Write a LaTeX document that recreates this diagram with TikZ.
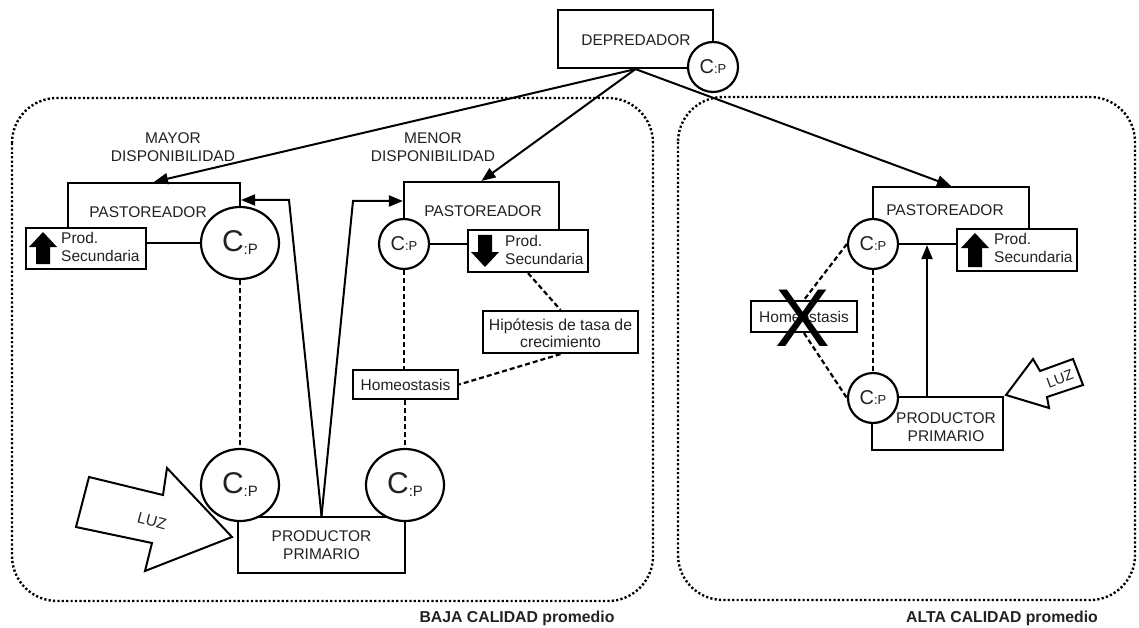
\documentclass[tikz,border=0pt]{standalone}
\usepackage{fontspec}
\setmainfont{Liberation Sans}
\usetikzlibrary{arrows.meta,shapes.geometric,calc}
\definecolor{txt}{HTML}{222222}
\tikzset{
  box/.style={draw=black, line width=2.2pt, fill=white, rectangle, inner sep=0pt},
  lbl/.style={text=txt, inner sep=0pt, font=\fontsize{15.5}{18}\selectfont, align=center},
  lbll/.style={text=txt, inner sep=0pt, font=\fontsize{15.5}{17.5}\selectfont, align=left, anchor=west},
  bigcp/.style={draw=black, line width=2.2pt, fill=white, ellipse, inner sep=0pt, minimum width=78pt, minimum height=72pt, text=txt},
  smallcp/.style={draw=black, line width=2.2pt, fill=white, circle, inner sep=0pt, minimum size=50pt, text=txt},
  con/.style={draw=black, line width=2pt},
  arr/.style={con, -{Triangle[length=14pt,width=11pt]}},
  dsh/.style={draw=black, line width=2.2pt, dash pattern=on 5pt off 3pt},
  dotbox/.style={draw=black, line width=2.4pt, dash pattern=on 2.2pt off 2.2pt, rounded corners=45pt},
  blk/.style={fill=black, draw=none},
  luz/.style={draw=black, line width=2pt, fill=white, line join=miter},
}
\newcommand{\bigCP}{{\fontsize{30}{30}\selectfont C}\raisebox{-3pt}{\fontsize{15}{15}\selectfont :P}}
\newcommand{\smCP}{{\fontsize{20}{20}\selectfont C}{\fontsize{13}{13}\selectfont :P}}
\begin{document}
\begin{tikzpicture}[x=1pt,y=-1pt]
\useasboundingbox (0,0) rectangle (1139,628);
\fill[white] (0,0) rectangle (1139,628);

% dotted regions
\draw[dotbox] (12,98) rectangle (653,601);
\draw[dotbox] (678,97) rectangle (1135,600);
\node[text=txt, inner sep=0pt, font=\fontsize{15.8}{18}\selectfont\bfseries] (baja) at (517,618) {BAJA CALIDAD promedio};
\node[text=txt, inner sep=0pt, font=\fontsize{15.8}{18}\selectfont\bfseries] (alta) at (1002,618) {ALTA CALIDAD promedio};

% DEPREDADOR
\node[box, minimum width=155pt, minimum height=58pt] (dep) at (635.5,39) {};
\node[lbl] (deptxt) at (636,40) {DEPREDADOR};
\node[smallcp] (depcp) at (713,67) {\smCP};

% ---- left region: mayor
\node[box, minimum width=172pt, minimum height=60pt] (pastL) at (154,213) {};
\node[lbl] (pastLt) at (148,212) {PASTOREADOR};
\node[box, minimum width=120pt, minimum height=41pt] (secL) at (86,248.5) {};
\fill[blk] (43,232) -- (57,247) -- (50,247) -- (50,264) -- (36,264) -- (36,247) -- (29,247) -- cycle;
\node[lbll] (secLt) at (61,247) {Prod.\\Secundaria};
\node[bigcp] (cL1) at (240,243) {\bigCP};
\node[lbl] (mayor) at (173,147) {MAYOR\\DISPONIBILIDAD};

% ---- left region: menor
\node[box, minimum width=155pt, minimum height=62pt] (pastM) at (481.5,213) {};
\node[lbl] (pastMt) at (483,211) {PASTOREADOR};
\node[box, minimum width=120pt, minimum height=42pt] (secM) at (528,251) {};
\fill[blk] (485,267) -- (499,252) -- (492,252) -- (492,235) -- (478,235) -- (478,252) -- (471,252) -- cycle;
\node[lbll] (secMt) at (505,250) {Prod.\\Secundaria};
\node[smallcp] (cM1) at (404,244) {\smCP};
\node[lbl] (menor) at (433,147) {MENOR\\DISPONIBILIDAD};

\node[box, minimum width=155pt, minimum height=42pt] (hip) at (560.5,332) {};
\node[lbl, font=\fontsize{15.8}{17}\selectfont] (hipt) at (560.5,333) {Hipótesis de tasa de\\crecimiento};
\node[box, minimum width=105pt, minimum height=29pt] (homM) at (405.5,384.5) {};
\node[lbl] (homMt) at (405.5,385) {Homeostasis};

% lower producer left
\node[box, minimum width=167pt, minimum height=56pt] (prodL) at (321.5,545) {};
\node[lbl] (prodLt) at (321.5,545) {PRODUCTOR\\PRIMARIO};
\node[bigcp] (cL2) at (240,485) {\bigCP};
\node[bigcp] (cM2) at (405,485) {\bigCP};

% connectors left region
\draw[arr] (dep.south) -- (pastL.north);
\draw[arr] (dep.south) -- (pastM.north);
\coordinate (bendL) at (289,200);
\coordinate (bendM) at (353,201);
\draw[arr] (prodL.north) -- (bendL) -- (pastL.east |- bendL);
\draw[arr] (prodL.north) -- (bendM) -- (pastM.west |- bendM);
\draw[dsh] (cL1.south) -- (cL2.north);
\draw[dsh] (cM1.south) -- (cM1.south |- homM.north);
\draw[dsh] (cM2.north |- homM.south) -- (cM2.north);
\draw[dsh] (secM.south) -- (hip.north);
\draw[dsh] (hip.south) -- (homM.east);

% LUZ left
\draw[luz] (89,477) -- (163,495) -- (167,468) -- (232,537) -- (145,571) -- (152,543) -- (76,527) -- cycle;
\node[lbl, rotate=-15] (luzL) at (152,521) {LUZ};

% ---- right region
\node[box, minimum width=156pt, minimum height=57pt] (pastR) at (951,215.5) {};
\node[lbl] (pastRt) at (945,210) {PASTOREADOR};
\node[box, minimum width=120pt, minimum height=42pt] (secR) at (1017,250) {};
\fill[blk] (975,233) -- (989,248) -- (982,248) -- (982,267) -- (968,267) -- (968,248) -- (961,248) -- cycle;
\node[lbll] (secRt) at (994,248) {Prod.\\Secundaria};
\node[smallcp] (cR1) at (873,244) {\smCP};

\node[box, minimum width=131pt, minimum height=53pt] (prodR) at (937.5,423.5) {};
\node[lbl] (prodRt) at (946,427) {PRODUCTOR\\PRIMARIO};
\node[smallcp] (cR2) at (873,398) {\smCP};

\node[box, minimum width=106pt, minimum height=31pt] (homR) at (804,316.5) {};
\node[lbl] (homRt) at (804,317) {Homeostasis};

\draw[arr] (dep.south) -- (pastR.north);
\coordinate (upbase) at (927,397);
\draw[arr] (upbase) -- (upbase |- pastR.south);
\draw[dsh] (cR1.south) -- (cR2.north);
\draw[dsh] (cR1.west) -- (homR.north);
\draw[dsh] (homR.south) -- (cR2.west);
\node[text=black, inner sep=0pt, font=\fontsize{82}{82}\selectfont] (xmark) at (803,318) {X};

% LUZ right
\draw[luz] (1006,395) -- (1033,359) -- (1040,371) -- (1073,359) -- (1083,385) -- (1047,397) -- (1049,408) -- cycle;
\node[lbl, rotate=20, font=\fontsize{14.5}{16}\selectfont] (luzR) at (1060,379) {LUZ};
\end{tikzpicture}
\end{document}
